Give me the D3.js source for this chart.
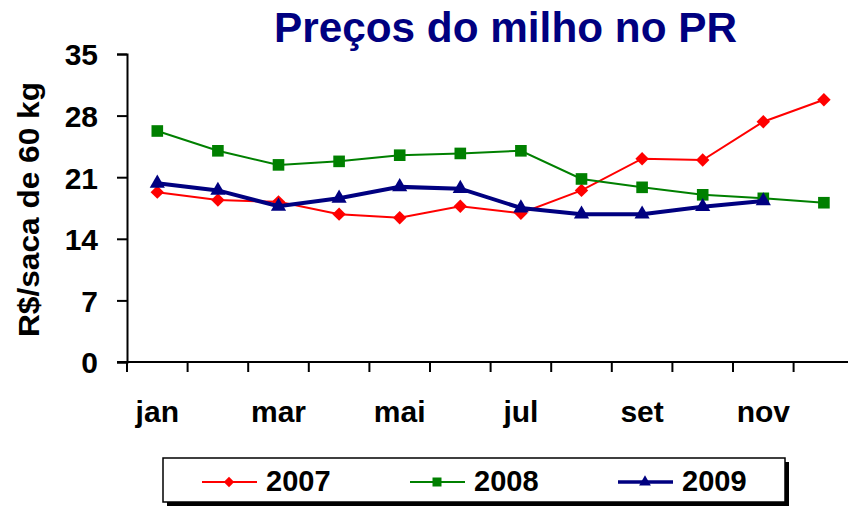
<!DOCTYPE html>
<meta charset="utf-8">
<html>
<head>
    <title>Preços do milho no PR</title>
    <style>
        body { margin: 0; background: #fff; }
        svg { font-family: "Liberation Sans", Arial, sans-serif; font-weight: bold; }
    </style>
    <script src="https://d3js.org/d3.v7.min.js"></script>
</head>
<body>
    <div id="chart"></div>
    <script>
        // months shown on the x axis (only every other label is printed)
        var months = ["jan", "fev", "mar", "abr", "mai", "jun", "jul", "ago", "set", "out", "nov", "dez"];
        var yTicks = [0, 7, 14, 21, 28, 35];

        var prices2007 = [19.3, 18.4, 18.2, 16.8, 16.4, 17.7, 16.9, 19.5, 23.1, 22.95, 27.3, 29.8];
        var prices2008 = [26.25, 24.0, 22.4, 22.8, 23.5, 23.7, 24.0, 20.8, 19.85, 19.0, 18.6, 18.1];
        var prices2009 = [20.3, 19.5, 17.7, 18.6, 19.9, 19.7, 17.5, 16.8, 16.8, 17.65, 18.3, null];

        // diamond = square turned 45 degrees (d3's own diamond is too narrow)
        var series = [
            { name: "2007", values: prices2007, color: "#ff0000", width: 2, symbol: d3.symbolSquare, size: 90, rot: 45 },
            { name: "2008", values: prices2008, color: "#008000", width: 2, symbol: d3.symbolSquare, size: 135, rot: 0 },
            { name: "2009", values: prices2009, color: "#000080", width: 4, symbol: d3.symbolTriangle, size: 100, rot: 0 }
        ];

        var W = 848, H = 506;
        var margin = { left: 127, top: 54, bottom: 144 };
        var plotH = H - margin.top - margin.bottom;   // 0 sits at y = 362

        var svg = d3.select("#chart").append("svg")
            .attr("width", W)
            .attr("height", H);

        // x is a band scale, the plot runs off the right edge like in the original
        var x = d3.scaleBand()
            .domain(months)
            .range([margin.left, margin.left + 12 * 60.6]);
        var y = d3.scaleLinear()
            .domain([0, 35])
            .range([margin.top + plotH, margin.top]);

        // title
        svg.append("text")
            .attr("x", 274)
            .attr("y", 42)
            .attr("fill", "#000080")
            .attr("textLength", 463)
            .attr("lengthAdjust", "spacingAndGlyphs")
            .style("font-size", "42px")
            .text("Preços do milho no PR");

        // y axis
        var yAxis = svg.append("g")
            .attr("transform", "translate(" + margin.left + ",0)")
            .call(d3.axisLeft(y).tickValues(yTicks).tickSize(10).tickPadding(19));
        yAxis.select(".domain").attr("stroke", "#000").attr("stroke-width", 2);
        yAxis.selectAll(".tick line").attr("stroke", "#000").attr("stroke-width", 2);
        yAxis.selectAll(".tick text")
            .attr("fill", "#000")
            .attr("dy", "0.36em")
            .style("font-size", "30px")
            .style("font-family", "Liberation Sans, Arial, sans-serif")
            .style("font-weight", "bold");

        // x axis: ticks sit between categories
        var xg = svg.append("g").attr("transform", "translate(0," + y(0) + ")");
        xg.append("line")
            .attr("x1", margin.left - 10)
            .attr("x2", W)
            .attr("stroke", "#000")
            .attr("stroke-width", 2);
        xg.selectAll(".xt")
            .data(months)
            .enter().append("line")
            .attr("class", "xt")
            .attr("x1", function (d) { return x(d); })
            .attr("x2", function (d) { return x(d); })
            .attr("y1", 0)
            .attr("y2", 10)
            .attr("stroke", "#000")
            .attr("stroke-width", 2);
        xg.selectAll(".xl")
            .data(months.filter(function (d, i) { return i % 2 === 0; }))
            .enter().append("text")
            .attr("class", "xl")
            .attr("x", function (d) { return x(d) + x.bandwidth() / 2; })
            .attr("y", 60)
            .attr("text-anchor", "middle")
            .style("font-size", "30px")
            .text(function (d) { return d; });

        // y label
        svg.append("text")
            .attr("transform", "translate(39,209.5) rotate(-90)")
            .attr("x", -127.5)
            .attr("textLength", 255)
            .attr("lengthAdjust", "spacingAndGlyphs")
            .style("font-size", "30px")
            .text("R$/saca de 60 kg");

        var line = d3.line()
            .defined(function (d) { return d != null; })
            .x(function (d, i) { return x(months[i]) + x.bandwidth() / 2; })
            .y(function (d) { return y(d); });

        series.forEach(function (s) {
            svg.append("path")
                .datum(s.values)
                .attr("fill", "none")
                .attr("stroke", s.color)
                .attr("stroke-width", s.width)
                .attr("d", line);
            svg.selectAll(null)
                .data(s.values.map(function (v, i) { return { v: v, m: months[i] }; })
                    .filter(function (d) { return d.v != null; }))
                .enter().append("path")
                .attr("d", d3.symbol().type(s.symbol).size(s.size))
                .attr("fill", s.color)
                .attr("transform", function (d) {
                    return "translate(" + (x(d.m) + x.bandwidth() / 2) + "," + y(d.v) + ") rotate(" + s.rot + ")";
                });
        });

        // legend with drop shadow
        var lg = svg.append("g");
        lg.append("rect")
            .attr("x", 167).attr("y", 462)
            .attr("width", 622).attr("height", 44)
            .attr("fill", "#000");
        lg.append("rect")
            .attr("x", 163).attr("y", 458)
            .attr("width", 622).attr("height", 44)
            .attr("fill", "#fff")
            .attr("stroke", "#000")
            .attr("stroke-width", 1.5);

        series.forEach(function (s, i) {
            var lx = 202 + i * 208;
            var ly = 482;
            lg.append("line")
                .attr("x1", lx).attr("x2", lx + 55)
                .attr("y1", ly).attr("y2", ly)
                .attr("stroke", s.color)
                .attr("stroke-width", s.width === 4 ? 3.5 : 2);
            lg.append("path")
                .attr("d", d3.symbol().type(s.symbol).size(s.size * 0.6))
                .attr("fill", s.color)
                .attr("transform", "translate(" + (lx + 27) + "," + ly + ") rotate(" + s.rot + ")");
            lg.append("text")
                .attr("x", lx + 64)
                .attr("y", 491)
                .style("font-size", "29px")
                .text(s.name);
        });
    </script>
</body>
</html>
